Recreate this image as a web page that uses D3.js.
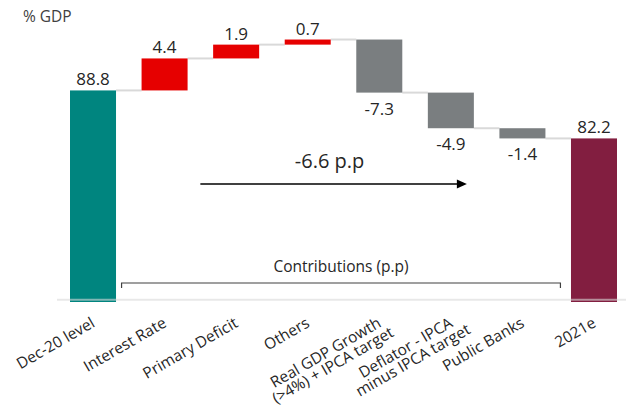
<!DOCTYPE html>
<html>
<head>
<meta charset="utf-8">
<script src="https://cdn.jsdelivr.net/npm/d3@7"></script>
<style>
  html, body { margin: 0; padding: 0; background: #fff; }
  svg { display: block; font-family: "Open Sans", "Noto Sans", sans-serif; }
</style>
</head>
<body>
<svg id="chart" width="626" height="412"></svg>
<script>
// ---- data ----
const categories = [
  "Dec-20 level",
  "Interest Rate",
  "Primary Deficit",
  "Others",
  "Real GDP Growth\n(>4%) + IPCA target",
  "Deflator - IPCA\nminus IPCA target",
  "Public Banks",
  "2021e"
];
const values = [88.8, 4.4, 1.9, 0.7, -7.3, -4.9, -1.4, 82.2];
const kinds = ["total", "delta", "delta", "delta", "delta", "delta", "delta", "total"];
const unitLabel = "% GDP";
const bracketLabel = "Contributions (p.p)";
const arrowLabel = "-6.6 p.p";

// ---- build waterfall ----
let running = 0;
const rows = categories.map((c, i) => {
  const v = values[i];
  let start, end;
  if (kinds[i] === "total") { start = 0; end = v; running = v; }
  else { start = running; end = running + v; running = end; }
  return { cat: c, value: v, kind: kinds[i], start, end, i };
});

const colors = { total0: "#00857f", up: "#e60000", down: "#7a7e80", total1: "#821e40" };
function colorOf(d) {
  if (d.kind === "total") return d.i === 0 ? colors.total0 : colors.total1;
  return d.value >= 0 ? colors.up : colors.down;
}

const svg = d3.select("#chart");
const x = d3.scaleBand().domain(categories).range([70, 617]).paddingInner(0.357).paddingOuter(0);
const y = d3.scaleLinear().domain([59.7, 100]).range([302, 9]);
const bw = x.bandwidth();
const floorVal = y.domain()[0];

// connectors
const conn = rows.slice(0, -1).map((d, i) => ({ x1: x(d.cat) + bw, x2: x(rows[i + 1].cat), v: d.end }));
svg.append("g").selectAll("line").data(conn).join("line")
  .attr("x1", d => d.x1).attr("x2", d => d.x2)
  .attr("y1", d => y(d.v)).attr("y2", d => y(d.v))
  .attr("stroke", "#d9d9d9").attr("stroke-width", 2);

// bars
svg.append("g").selectAll("rect").data(rows).join("rect")
  .attr("x", d => x(d.cat))
  .attr("width", bw)
  .attr("y", d => d.kind === "total" ? y(d.end) : y(Math.max(d.start, d.end)))
  .attr("height", d => d.kind === "total" ? y(floorVal) - y(d.end) : Math.abs(y(d.start) - y(d.end)))
  .attr("fill", colorOf);

// baseline (axis line)
svg.append("line")
  .attr("x1", 57).attr("x2", 626)
  .attr("y1", y(60)).attr("y2", y(60))
  .attr("stroke", "#d9d9d9").attr("stroke-opacity", 0.6).attr("stroke-width", 2);

// value labels
svg.append("g").selectAll("text").data(rows).join("text")
  .attr("x", d => x(d.cat) + bw / 2)
  .attr("y", d => {
    if (d.kind === "total" || d.value >= 0) return y(Math.max(d.start, d.end)) - 5;
    return y(Math.min(d.start, d.end)) + 22;
  })
  .attr("text-anchor", "middle")
  .attr("font-size", 17)
  .attr("fill", "#262626")
  .text(d => d.value.toFixed(1));

// unit label
svg.append("text").attr("x", 23).attr("y", 22)
  .attr("font-size", 15.5).attr("fill", "#404040").text(unitLabel);

// x-axis labels (rotated)
const lh = 14.5;
const lab = svg.append("g").attr("font-size", 15.5).attr("fill", "#262626");
rows.forEach(d => {
  const lines = d.cat.split("\n");
  const g = lab.append("g")
    .attr("transform", `translate(${x(d.cat) + bw / 2 + 3},326) rotate(-30)`);
  if (lines.length === 1) {
    g.append("text").attr("text-anchor", "end").text(lines[0]);
  } else {
    const t0 = g.append("text").attr("text-anchor", "middle").text(lines[0]);
    const w0 = t0.node().getComputedTextLength();
    t0.attr("x", -w0 / 2);
    lines.slice(1).forEach((ln, k) => {
      g.append("text").attr("text-anchor", "middle")
        .attr("x", -w0 / 2).attr("y", (k + 1) * lh).text(ln);
    });
  }
});

// bracket
const bx1 = x(categories[1]) - 20;
const bx2 = x(categories[6]) + bw + 15;
const by = 283;
svg.append("path")
  .attr("d", `M${bx1},${by + 5}V${by}H${bx2}V${by + 5}`)
  .attr("fill", "none").attr("stroke", "#404040").attr("stroke-width", 1.2);
svg.append("text").attr("x", (bx1 + bx2) / 2).attr("y", 272)
  .attr("text-anchor", "middle").attr("font-size", 15.5).attr("fill", "#262626")
  .text(bracketLabel);

// arrow
const ax1 = x(categories[2]) - (x.step() - bw) / 2;
const ax2 = x(categories[5]) + bw - 7;
const ay = 184;
svg.append("line").attr("x1", ax1).attr("x2", ax2 - 9).attr("y1", ay).attr("y2", ay)
  .attr("stroke", "#000").attr("stroke-width", 1.3);
svg.append("path")
  .attr("d", `M${ax2},${ay}L${ax2 - 10},${ay - 4.5}L${ax2 - 10},${ay + 4.5}Z`)
  .attr("fill", "#000");
svg.append("text").attr("x", (ax1 + ax2) / 2 - 4).attr("y", 168)
  .attr("text-anchor", "middle").attr("font-size", 20).attr("fill", "#262626")
  .text(arrowLabel);
</script>
</body>
</html>
